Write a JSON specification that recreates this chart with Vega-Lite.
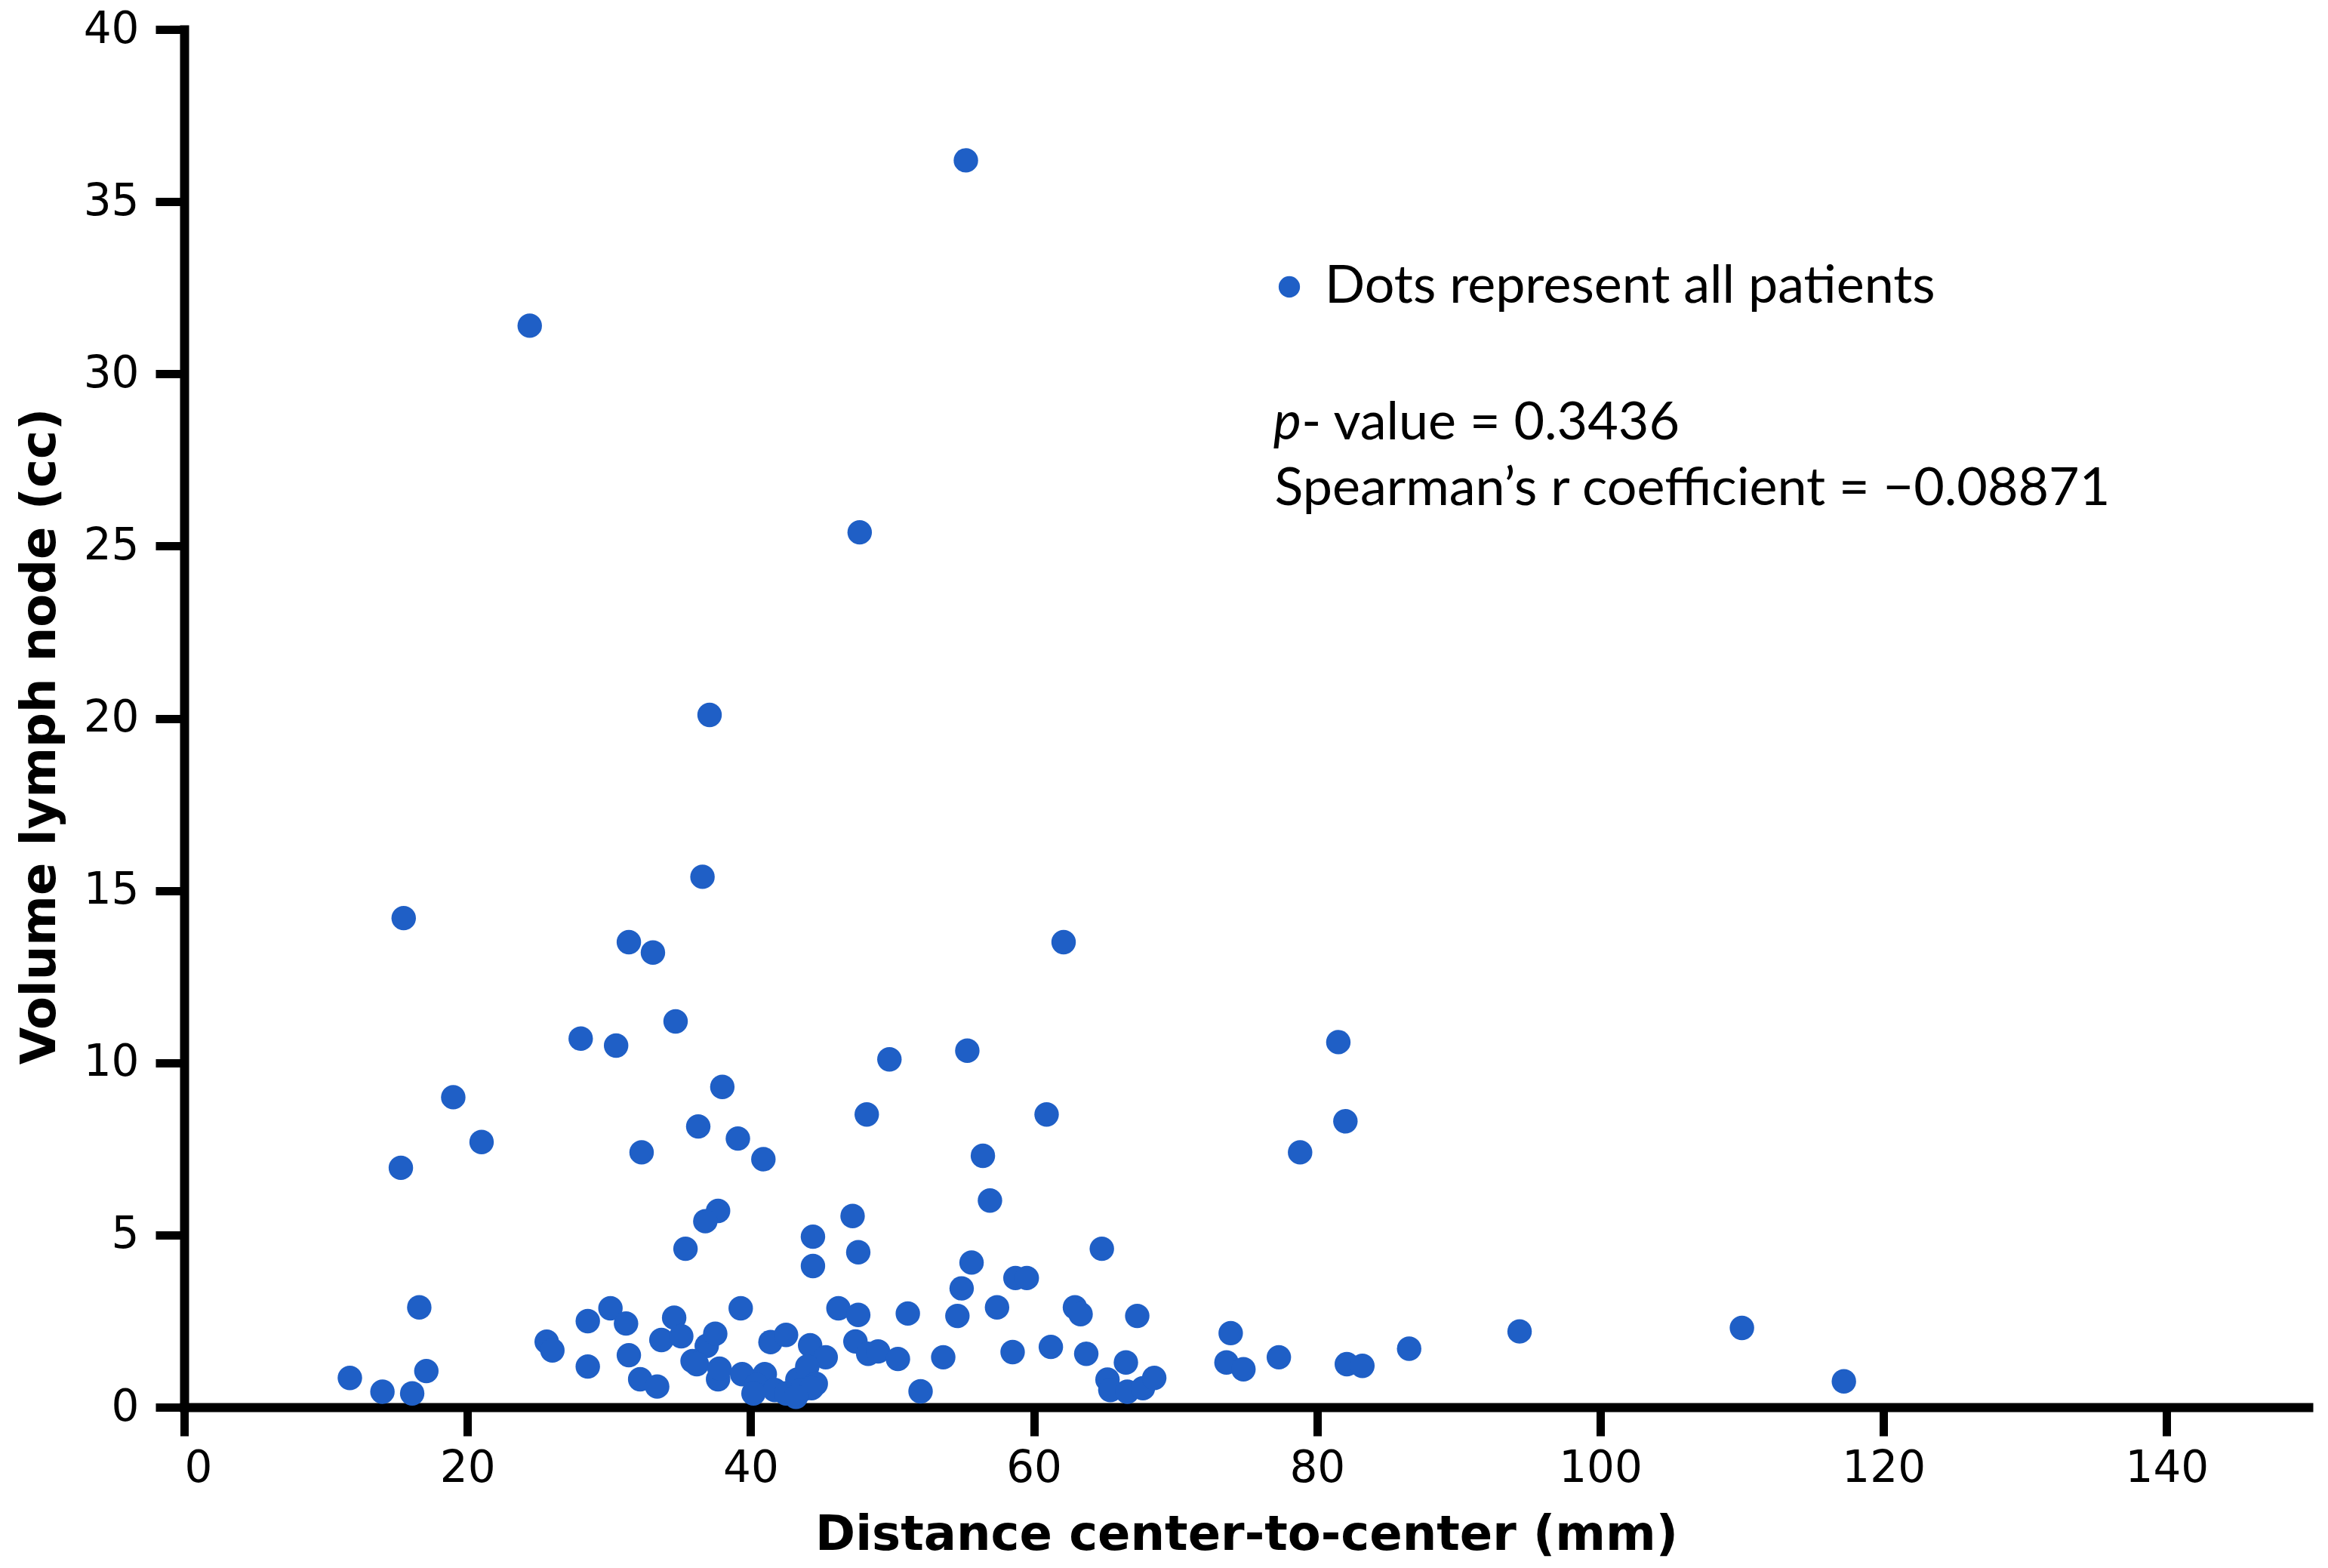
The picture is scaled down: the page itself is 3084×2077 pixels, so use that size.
{
  "$schema": "https://vega.github.io/schema/vega-lite/v6.json",
  "autosize": {"type": "none"},
  "width": 2814,
  "height": 1825,
  "padding": {"left": 244, "top": 39, "right": 26, "bottom": 213},
  "background": "white",
  "config": {
    "view": {"stroke": null},
    "axis": {
      "domainColor": "black",
      "domainWidth": 12,
      "domainCap": "square",
      "tickColor": "black",
      "tickWidth": 11,
      "tickSize": 38,
      "labelFont": "DejaVu Sans",
      "labelFontSize": 58,
      "labelColor": "black",
      "titleFont": "DejaVu Sans",
      "titleFontWeight": "bold",
      "titleFontSize": 64,
      "titleColor": "black",
      "grid": false
    }
  },
  "datasets": {
    "pts": [
      {"d": 55.2, "v": 36.2}, {"d": 24.4, "v": 31.4}, {"d": 47.7, "v": 25.4}, {"d": 37.1, "v": 20.1},
      {"d": 36.6, "v": 15.4}, {"d": 15.5, "v": 14.2}, {"d": 31.4, "v": 13.5}, {"d": 33.1, "v": 13.2},
      {"d": 62.1, "v": 13.5}, {"d": 34.7, "v": 11.2}, {"d": 28.0, "v": 10.7}, {"d": 30.5, "v": 10.5},
      {"d": 55.3, "v": 10.35}, {"d": 49.8, "v": 10.1}, {"d": 81.5, "v": 10.6}, {"d": 19.0, "v": 9.0},
      {"d": 38.0, "v": 9.3}, {"d": 48.2, "v": 8.5}, {"d": 60.9, "v": 8.5}, {"d": 82.0, "v": 8.3},
      {"d": 21.0, "v": 7.7}, {"d": 32.3, "v": 7.4}, {"d": 36.3, "v": 8.15}, {"d": 39.1, "v": 7.8},
      {"d": 40.9, "v": 7.2}, {"d": 56.4, "v": 7.3}, {"d": 78.8, "v": 7.4}, {"d": 15.3, "v": 6.95},
      {"d": 56.9, "v": 6.0}, {"d": 37.7, "v": 5.7}, {"d": 36.8, "v": 5.4}, {"d": 47.2, "v": 5.55},
      {"d": 44.4, "v": 4.95}, {"d": 35.4, "v": 4.6}, {"d": 47.6, "v": 4.5}, {"d": 64.8, "v": 4.6},
      {"d": 55.6, "v": 4.2}, {"d": 44.4, "v": 4.1}, {"d": 58.7, "v": 3.75}, {"d": 59.5, "v": 3.75},
      {"d": 54.9, "v": 3.45}, {"d": 16.6, "v": 2.9}, {"d": 57.4, "v": 2.9}, {"d": 46.2, "v": 2.87},
      {"d": 47.6, "v": 2.68}, {"d": 39.3, "v": 2.87}, {"d": 30.1, "v": 2.87}, {"d": 51.1, "v": 2.72},
      {"d": 62.9, "v": 2.9}, {"d": 63.3, "v": 2.7}, {"d": 67.3, "v": 2.65}, {"d": 28.5, "v": 2.5},
      {"d": 31.2, "v": 2.43}, {"d": 34.6, "v": 2.6}, {"d": 54.6, "v": 2.65}, {"d": 94.3, "v": 2.2},
      {"d": 110.0, "v": 2.3}, {"d": 73.9, "v": 2.15}, {"d": 25.6, "v": 1.9}, {"d": 26.0, "v": 1.65},
      {"d": 33.7, "v": 1.95}, {"d": 35.1, "v": 2.06}, {"d": 36.9, "v": 1.78}, {"d": 37.5, "v": 2.13},
      {"d": 41.4, "v": 1.89}, {"d": 42.5, "v": 2.1}, {"d": 44.2, "v": 1.8}, {"d": 47.4, "v": 1.91},
      {"d": 48.3, "v": 1.55}, {"d": 49.0, "v": 1.62}, {"d": 58.5, "v": 1.6}, {"d": 61.2, "v": 1.75},
      {"d": 63.7, "v": 1.55}, {"d": 86.5, "v": 1.7}, {"d": 28.5, "v": 1.18}, {"d": 31.4, "v": 1.51},
      {"d": 35.9, "v": 1.34}, {"d": 36.2, "v": 1.25}, {"d": 45.3, "v": 1.45}, {"d": 50.4, "v": 1.4},
      {"d": 53.6, "v": 1.45}, {"d": 66.5, "v": 1.3}, {"d": 73.6, "v": 1.3}, {"d": 74.8, "v": 1.1},
      {"d": 77.3, "v": 1.45}, {"d": 82.1, "v": 1.25}, {"d": 83.2, "v": 1.2}, {"d": 17.1, "v": 1.05},
      {"d": 11.7, "v": 0.85}, {"d": 14.0, "v": 0.45}, {"d": 16.1, "v": 0.4}, {"d": 32.2, "v": 0.81},
      {"d": 33.4, "v": 0.6}, {"d": 37.7, "v": 0.81}, {"d": 37.8, "v": 1.12}, {"d": 39.4, "v": 0.96},
      {"d": 41.0, "v": 0.96}, {"d": 40.4, "v": 0.65}, {"d": 41.7, "v": 0.5}, {"d": 42.5, "v": 0.4},
      {"d": 43.3, "v": 0.8}, {"d": 43.6, "v": 0.5}, {"d": 44.0, "v": 1.18}, {"d": 44.6, "v": 0.68},
      {"d": 44.3, "v": 0.55}, {"d": 40.2, "v": 0.4}, {"d": 43.2, "v": 0.3}, {"d": 52.0, "v": 0.46},
      {"d": 65.2, "v": 0.8}, {"d": 65.4, "v": 0.5}, {"d": 66.6, "v": 0.45}, {"d": 67.7, "v": 0.55},
      {"d": 68.5, "v": 0.85}, {"d": 117.2, "v": 0.75}
    ],
    "notes": [
      {"d": 78.9, "v": 28.1, "t": "- value = 0.3436"},
      {"d": 77.0, "v": 26.2, "t": "Spearman’s r coefficient = −0.08871"}
    ],
    "italic": [
      {"d": 76.9, "v": 28.1, "t": "p"}
    ]
  },
  "layer": [
    {
      "data": {"name": "pts"},
      "transform": [{"calculate": "'Dots represent all patients'", "as": "group"}],
      "mark": {"type": "point", "filled": true, "opacity": 1, "size": 1050, "shape": "circle"},
      "encoding": {
        "x": {
          "field": "d", "type": "quantitative",
          "title": "Distance center-to-center (mm)",
          "scale": {"domain": [0, 150], "nice": false},
          "axis": {"values": [0, 20, 40, 60, 80, 100, 120, 140], "labelPadding": 14, "titleY": 188, "titleBaseline": "alphabetic"}
        },
        "y": {
          "field": "v", "type": "quantitative",
          "title": "Volume lymph node (cc)",
          "scale": {"domain": [0, 40], "nice": false},
          "axis": {"values": [0, 5, 10, 15, 20, 25, 30, 35, 40], "labelPadding": 22, "titleX": -172, "titleY": 936, "titleAngle": -90, "titleAlign": "center", "titleBaseline": "alphabetic"}
        },
        "color": {
          "field": "group", "type": "nominal",
          "scale": {"range": ["#1f5fc6"]},
          "legend": {
            "title": null,
            "orient": "none",
            "legendX": 1429,
            "legendY": 306,
            "padding": 0,
            "symbolSize": 800,
            "symbolType": "circle",
            "symbolFillColor": "#1a6ec8",
            "symbolStrokeWidth": 0,
            "labelFont": "Lato",
            "labelFontSize": 70,
            "labelColor": "black",
            "labelOffset": 12,
            "labelLimit": 2000
          }
        }
      }
    },
    {
      "data": {"name": "notes"},
      "mark": {"type": "text", "font": "Lato", "fontSize": 70, "align": "left", "baseline": "alphabetic", "color": "black"},
      "encoding": {
        "x": {"field": "d", "type": "quantitative"},
        "y": {"field": "v", "type": "quantitative"},
        "text": {"field": "t", "type": "nominal"}
      }
    },
    {
      "data": {"name": "italic"},
      "mark": {"type": "text", "font": "Lato", "fontSize": 70, "fontStyle": "italic", "align": "left", "baseline": "alphabetic", "color": "black"},
      "encoding": {
        "x": {"field": "d", "type": "quantitative"},
        "y": {"field": "v", "type": "quantitative"},
        "text": {"field": "t", "type": "nominal"}
      }
    }
  ]
}
